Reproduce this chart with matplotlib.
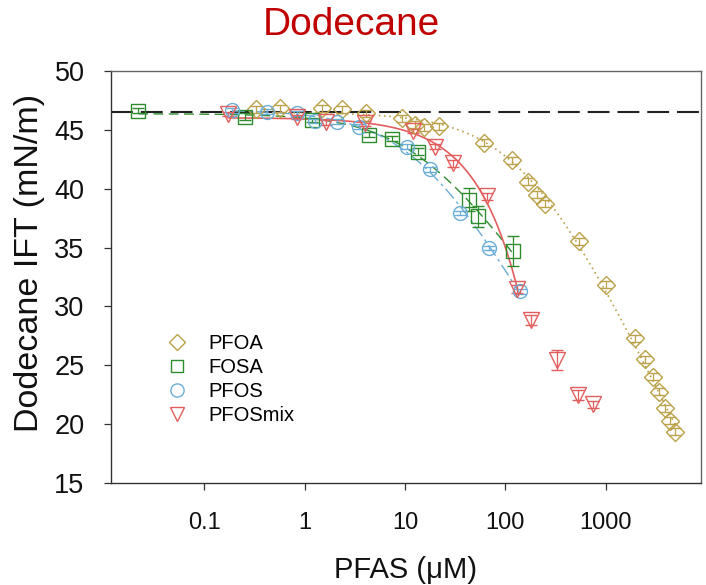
import numpy as np
import matplotlib
matplotlib.use("Agg")
import matplotlib.pyplot as plt
from matplotlib.lines import Line2D

plt.rcParams['font.family'] = ['Liberation Sans', 'DejaVu Sans']

# Interfacial tension of dodecane against PFAS solutions (mN/m vs. uM)
pfoa_conc = [0.329, 0.564, 1.49, 2.34, 4.09, 9.27, 12.6, 15.5, 22.0, 61.6, 116, 168,
             206, 248, 544, 1000, 1950, 2450, 2940, 3380, 3900, 4350, 4840]
pfoa_ift = [46.75, 46.84, 46.84, 46.75, 46.42, 45.99, 45.42, 45.24, 45.3, 43.92, 42.4,
            40.6, 39.5, 38.73, 35.53, 31.86, 27.29, 25.51, 24.04, 22.74, 21.33, 20.28, 19.35]
pfoa_err = [0.3] * len(pfoa_conc)

fosa_conc = [0.0221, 0.255, 1.19, 4.38, 7.38, 13.5, 43.1, 53.0, 118]
fosa_ift = [46.64, 46.13, 45.85, 44.58, 44.24, 43.16, 39.07, 37.65, 34.69]
fosa_err = [0.2, 0.3, 0.2, 0.2, 0.2, 0.3, 1.0, 0.92, 1.27]

pfos_conc = [0.191, 0.426, 0.841, 1.27, 2.12, 3.51, 10.5, 17.9, 35.3, 69.0, 140]
pfos_ift = [46.65, 46.55, 46.42, 45.75, 45.7, 45.28, 43.56, 41.64, 37.94, 34.97, 31.27]
pfos_err = [0.2] * len(pfos_conc)

mix_conc = [0.174, 0.836, 1.64, 4.0, 12.1, 19.7, 29.9, 65.5, 131, 178, 324, 531, 750]
mix_ift = [46.36, 46.1, 45.64, 45.57, 44.9, 43.56, 42.16, 39.35, 31.48, 28.85, 25.45,
           22.46, 21.69]
mix_err = [0.2, 0.2, 0.2, 0.2, 0.2, 0.2, 0.3, 0.3, 0.3, 0.4, 0.88, 0.4, 0.3]
mix_fit_points = 9  # points below the CMC used for the fit

water_ift = 46.5

series_names = ["PFOA", "FOSA", "PFOS", "PFOSmix"]
series_colors = ["#BBA14A", "#2E8B2E", "#6AAED8", "#E35D5D"]


def szyszkowski_fit(c, g):
    """Least-squares fit of g = g0 - a*ln(1 + c/b) with a grid over b."""
    c = np.asarray(c, float)
    g = np.asarray(g, float)
    best = None
    for b in np.logspace(-2, 7, 600):
        X = np.column_stack([np.ones_like(c), -np.log1p(c / b)])
        coef, *_ = np.linalg.lstsq(X, g, rcond=None)
        r = np.sum((X @ coef - g) ** 2)
        if best is None or r < best[0]:
            best = (r, b, coef)
    _, b, (g0, a) = best
    cc = np.logspace(np.log10(c.min()), np.log10(c.max()), 300)
    return cc, g0 - a * np.log1p(cc / b)


fig = plt.figure(figsize=(7.06, 5.85), dpi=100)
ax = fig.add_axes([0.1572, 0.1744, 0.8357, 0.7042])

ax.set_xscale('log')
ax.set_xlim(10 ** -1.927, 10 ** 3.947)
ax.set_ylim(15, 50)

# reference line for the clean interface
ax.axhline(water_ift, color='#222222', lw=1.5, ls=(0, (10.5, 3.8)), zorder=1)

# fitted isotherms
fx, fy = szyszkowski_fit(pfoa_conc, pfoa_ift)
ax.plot(fx, fy, color=series_colors[0], lw=1.2, ls=(0, (1, 2.2)), zorder=2)
fx, fy = szyszkowski_fit(fosa_conc, fosa_ift)
ax.plot(fx, fy, color=series_colors[1], lw=1.0, ls=(0, (7, 4)), zorder=2)
fx, fy = szyszkowski_fit(pfos_conc, pfos_ift)
ax.plot(fx, fy, color=series_colors[2], lw=1.0, ls=(0, (9, 3, 2, 3)), zorder=2)
fx, fy = szyszkowski_fit(mix_conc[:mix_fit_points], mix_ift[:mix_fit_points])
ax.plot(fx, fy, color=series_colors[3], lw=1.2, ls='-', zorder=2)

marker_styles = [('D', 9), ('s', 9.5), ('o', 10), ('v', 11)]
data = [(pfoa_conc, pfoa_ift, pfoa_err), (fosa_conc, fosa_ift, fosa_err),
        (pfos_conc, pfos_ift, pfos_err), (mix_conc, mix_ift, mix_err)]
for (cx, cy, ce), (mk, ms), col in zip(data, marker_styles, series_colors):
    ax.errorbar(cx, cy, yerr=ce, fmt=mk, ms=ms, mfc='none', mec=col, mew=1.0,
                ecolor=col, elinewidth=0.9, capsize=4.5, capthick=0.9, zorder=3)

ax.set_yticks(np.arange(15, 51, 5))
ax.set_xticks([0.1, 1, 10, 100, 1000])
ax.set_xticklabels(['0.1', '1', '10', '100', '1000'])
ax.minorticks_off()
ax.tick_params(axis='both', direction='out', length=5, width=0.9, colors='#333333',
               labelcolor='#111111')
ax.tick_params(axis='y', pad=14, labelsize=19.5)
ax.tick_params(axis='x', pad=16, labelsize=17)

for side in ['left', 'bottom']:
    ax.spines[side].set_color('#333333')
    ax.spines[side].set_linewidth(1.0)
for side in ['top', 'right']:
    ax.spines[side].set_color('#666666')
    ax.spines[side].set_linewidth(1.0)

ax.set_ylabel('Dodecane IFT (mN/m)', fontsize=24.5, color='#111111')
ax.yaxis.set_label_coords(-0.112, 0.535)
ax.set_xlabel('PFAS (\u03bcM)', fontsize=21, color='#111111', labelpad=16)
fig.text(0.497, 0.958, 'Dodecane', fontsize=28, color='#C00000', ha='center', va='center')

handles = [Line2D([], [], ls='none', marker=mk, ms=ms * 0.95, mfc='none', mec=col, mew=1.0)
           for (mk, ms), col in zip(marker_styles, series_colors)]
ax.legend(handles, series_names, loc='upper left', bbox_to_anchor=(0.067, 0.395),
          frameon=False, fontsize=14.5, handletextpad=0.95, labelspacing=0.25,
          handlelength=1.2, borderpad=0.2)

fig.savefig('out.png', dpi=100, facecolor='white')
